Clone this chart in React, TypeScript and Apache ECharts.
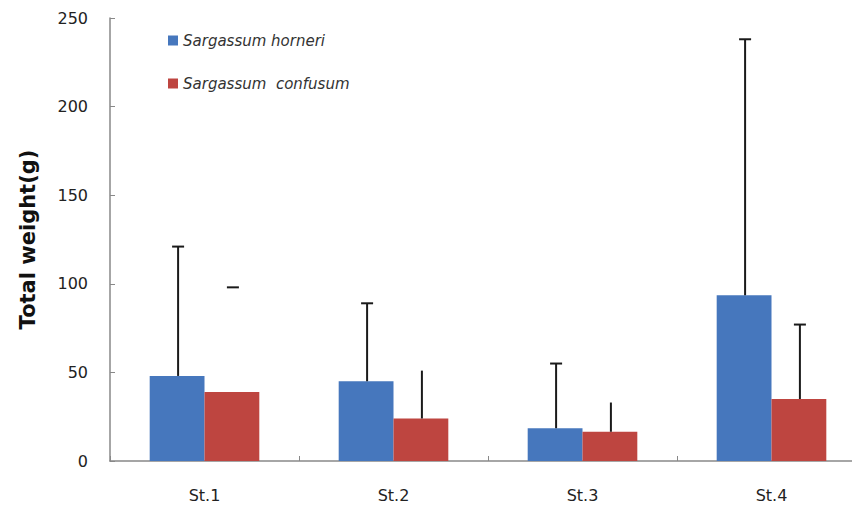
import React, { useEffect, useRef } from "react";
import * as echarts from "echarts";

// Stations along the x-axis
const stations = ["St.1", "St.2", "St.3", "St.4"];
const seriesNames = ["Sargassum horneri", "Sargassum  confusum"];

// Mean total weight (g) per station
const horneriMean = [48, 45, 18.5, 93.5];
const confusumMean = [39, 24, 16.5, 35];

// Upper end of the error bar (mean + SD)
const horneriUpper = [121, 89, 55, 238];
const confusumUpper = [98, 51, 33, 77];

// Which parts of each error bar are drawn
const horneriCap = [1, 1, 1, 1];
const horneriStem = [1, 1, 1, 1];
const confusumCap = [1, 0, 0, 1];
const confusumStem = [0, 1, 1, 1];

const yTicks = { min: 0, max: 250, interval: 50 };

const BLUE = "#4677bd";
const RED = "#be4540";
const BAR_FRACTION = 0.29; // each bar's share of a category band

function errorSeries(
  name: string,
  upper: number[],
  mean: number[],
  cap: number[],
  stem: number[],
  side: number
) {
  return {
    type: "custom",
    name,
    z: 5,
    silent: true,
    data: upper.map((u, i) => [i, u, mean[i], cap[i], stem[i]]),
    renderItem: (_params: any, api: any) => {
      const idx = api.value(0);
      const band = api.size([1, 0])[0];
      const topPt = api.coord([idx, api.value(1)]);
      const basePt = api.coord([idx, api.value(2)]);
      const x = topPt[0] + (side * BAR_FRACTION * band) / 2 + 1;
      const style = { stroke: "#1a1a1a", lineWidth: 2 };
      const children: any[] = [];
      if (api.value(4)) {
        children.push({
          type: "line",
          shape: { x1: x, y1: topPt[1], x2: x, y2: basePt[1] },
          style,
        });
      }
      if (api.value(3)) {
        children.push({
          type: "line",
          shape: { x1: x - 6, y1: topPt[1], x2: x + 6, y2: topPt[1] },
          style,
        });
      }
      return { type: "group", children };
    },
  };
}

export default function App() {
  const ref = useRef<HTMLDivElement>(null);

  useEffect(() => {
    if (!ref.current) return;
    document.body.style.margin = "0";
    document.body.style.overflow = "hidden";
    const chart = echarts.init(ref.current, undefined, { renderer: "svg" });
    const font = "DejaVu Sans";
    chart.setOption({
      animation: false,
      backgroundColor: "#ffffff",
      grid: {
        left: 110,
        right: -14,
        top: 18,
        bottom: 45,
        containLabel: false,
        outerBoundsMode: "none",
      },
      legend: {
        data: seriesNames,
        orient: "vertical",
        left: 163,
        top: 28,
        icon: "rect",
        itemWidth: 10,
        itemHeight: 10,
        itemGap: 28,
        textStyle: {
          fontFamily: font,
          fontStyle: "italic",
          fontSize: 15,
          color: "#333",
        },
      },
      xAxis: {
        type: "category",
        data: stations,
        boundaryGap: true,
        axisLine: { lineStyle: { color: "#888", width: 1.5 } },
        axisTick: { show: true, inside: true, length: 5, lineStyle: { color: "#888" } },
        axisLabel: { fontFamily: font, fontSize: 16, color: "#222", margin: 26 },
        splitLine: { show: false },
      },
      yAxis: {
        type: "value",
        min: yTicks.min,
        max: yTicks.max,
        interval: yTicks.interval,
        name: "Total weight(g)",
        nameLocation: "middle",
        nameGap: 72,
        nameTextStyle: { fontFamily: font, fontWeight: "bold", fontSize: 21, color: "#111" },
        axisLine: { show: true, lineStyle: { color: "#888", width: 1.5 } },
        axisTick: { show: true, inside: true, length: 5, lineStyle: { color: "#888" } },
        axisLabel: { fontFamily: font, fontSize: 16, color: "#222", margin: 22 },
        splitLine: { show: false },
      },
      series: [
        {
          type: "bar",
          name: seriesNames[0],
          data: horneriMean,
          barWidth: `${BAR_FRACTION * 100}%`,
          barGap: "0%",
          itemStyle: { color: BLUE },
        },
        {
          type: "bar",
          name: seriesNames[1],
          data: confusumMean,
          barWidth: `${BAR_FRACTION * 100}%`,
          barGap: "0%",
          itemStyle: { color: RED },
        },
        errorSeries("horneri-sd", horneriUpper, horneriMean, horneriCap, horneriStem, -1),
        errorSeries("confusum-sd", confusumUpper, confusumMean, confusumCap, confusumStem, 1),
      ],
    });
    return () => chart.dispose();
  }, []);

  return <div ref={ref} style={{ width: 852, height: 506 }} />;
}
